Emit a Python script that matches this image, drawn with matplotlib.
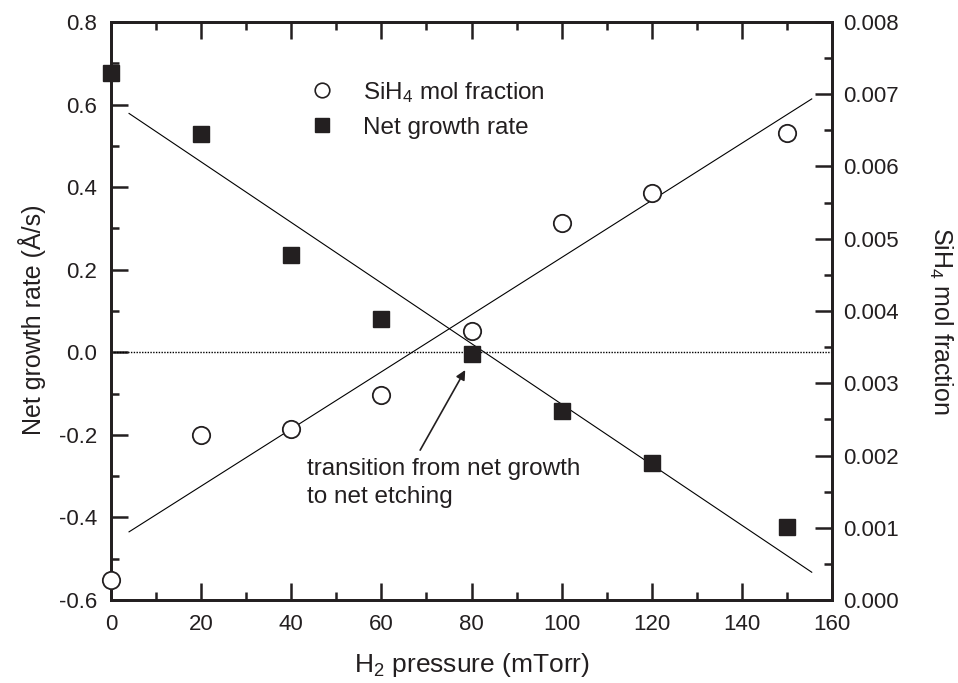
import matplotlib
matplotlib.use("Agg")
import matplotlib.pyplot as plt
import numpy as np
from matplotlib.ticker import MultipleLocator

plt.rcParams['font.family'] = ['Liberation Sans', 'DejaVu Sans']
plt.rcParams['mathtext.default'] = 'regular'

# H2 pressure (mTorr)
pressure = np.array([0, 20, 40, 60, 80, 100, 120, 150])
# net growth rate (A/s), left axis
growth = np.array([0.676, 0.528, 0.236, 0.081, -0.004, -0.142, -0.269, -0.424])
# SiH4 mol fraction, right axis
sih4 = np.array([0.000277, 0.00229, 0.00237, 0.00284, 0.00373, 0.00522, 0.00564, 0.00646])

# range covered by the straight-line fits
fit_range = np.array([4.0, 155.5])

ink = '#231f20'

fig = plt.figure(figsize=(9.58, 6.83), dpi=100)
ax = fig.add_subplot(111)
fig.subplots_adjust(left=0.1159, right=0.8685, top=0.9678, bottom=0.1215)
ax2 = ax.twinx()

# zero growth reference
ax.axhline(0.0, color='black', lw=1.0, ls=(0, (1, 1)))

# linear fits
pg = np.polyfit(pressure, growth, 1)
ps = np.polyfit(pressure, sih4, 1)
ax.plot(fit_range, np.polyval(pg, fit_range), color='black', lw=0.8)
ax2.plot(fit_range, np.polyval(ps, fit_range), color='black', lw=0.8)

ax.plot(pressure, growth, 's', color=ink, ms=12, clip_on=False, zorder=5)
ax2.plot(pressure, sih4, 'o', mfc='white', mec=ink, mew=1.3, ms=12.5,
         clip_on=False, zorder=5)

ax.set_xlim(0, 160)
ax.set_ylim(-0.6, 0.8)
ax2.set_ylim(0.0, 0.008)

ax.xaxis.set_major_locator(MultipleLocator(20))
ax.xaxis.set_minor_locator(MultipleLocator(10))
ax.yaxis.set_major_locator(MultipleLocator(0.2))
ax.yaxis.set_minor_locator(MultipleLocator(0.1))
ax2.yaxis.set_major_locator(MultipleLocator(0.001))
ax2.yaxis.set_minor_locator(MultipleLocator(0.0005))

ax.yaxis.set_major_formatter(lambda v, p: f"{v:.1f}")
ax2.yaxis.set_major_formatter(lambda v, p: f"{v:.3f}")

for a in (ax, ax2):
    for s in a.spines.values():
        s.set_linewidth(2.0)
        s.set_color(ink)
ax.tick_params(which='both', direction='in', top=True, right=False,
               labelsize=16, width=1.8, colors=ink, labelcolor=ink)
ax.tick_params(which='major', length=12)
ax.tick_params(which='minor', length=6)
ax.tick_params(axis='x', which='major', pad=10)
ax.tick_params(axis='y', which='major', pad=10)
ax2.tick_params(which='both', direction='in', labelsize=16, width=1.8,
                colors=ink, labelcolor=ink)
ax2.tick_params(which='major', length=12, pad=8)
ax2.tick_params(which='minor', length=6)

ax.set_xlabel('H$_2$ pressure (mTorr)', fontsize=19, color=ink, va='center')
ax.xaxis.set_label_coords(0.5, -0.113)
ax.set_ylabel('Net growth rate (Å/s)', fontsize=18, color=ink, va='center')
ax.yaxis.set_label_coords(-0.11, 0.485)
ax2.set_ylabel('SiH$_4$ mol fraction', fontsize=18, color=ink,
               rotation=270, va='center', ha='center')
ax2.yaxis.set_label_coords(1.15, 0.483)

# legend
h1 = ax.plot([], [], 'o', mfc='white', mec=ink, mew=1.2, ms=10.5)[0]
h2 = ax.plot([], [], 's', color=ink, ms=9.5)[0]
ax.legend([h1, h2], ['SiH$_4$ mol fraction', 'Net growth rate'],
          loc='upper left', bbox_to_anchor=(0.2455, 0.938), frameon=False,
          fontsize=17.5, handlelength=1.0, handletextpad=1.19,
          labelspacing=0.5, labelcolor=ink)

ax.text(43.5, -0.255, 'transition from net growth\nto net etching',
        fontsize=17.5, color=ink, va='top', ha='left', linespacing=1.35)
ax.annotate('', xy=(78.6, -0.043), xytext=(68.6, -0.237),
            arrowprops=dict(arrowstyle='-|>', color=ink, lw=1.2,
                            shrinkA=0, shrinkB=0, mutation_scale=14))

fig.savefig('out.png', dpi=100)
